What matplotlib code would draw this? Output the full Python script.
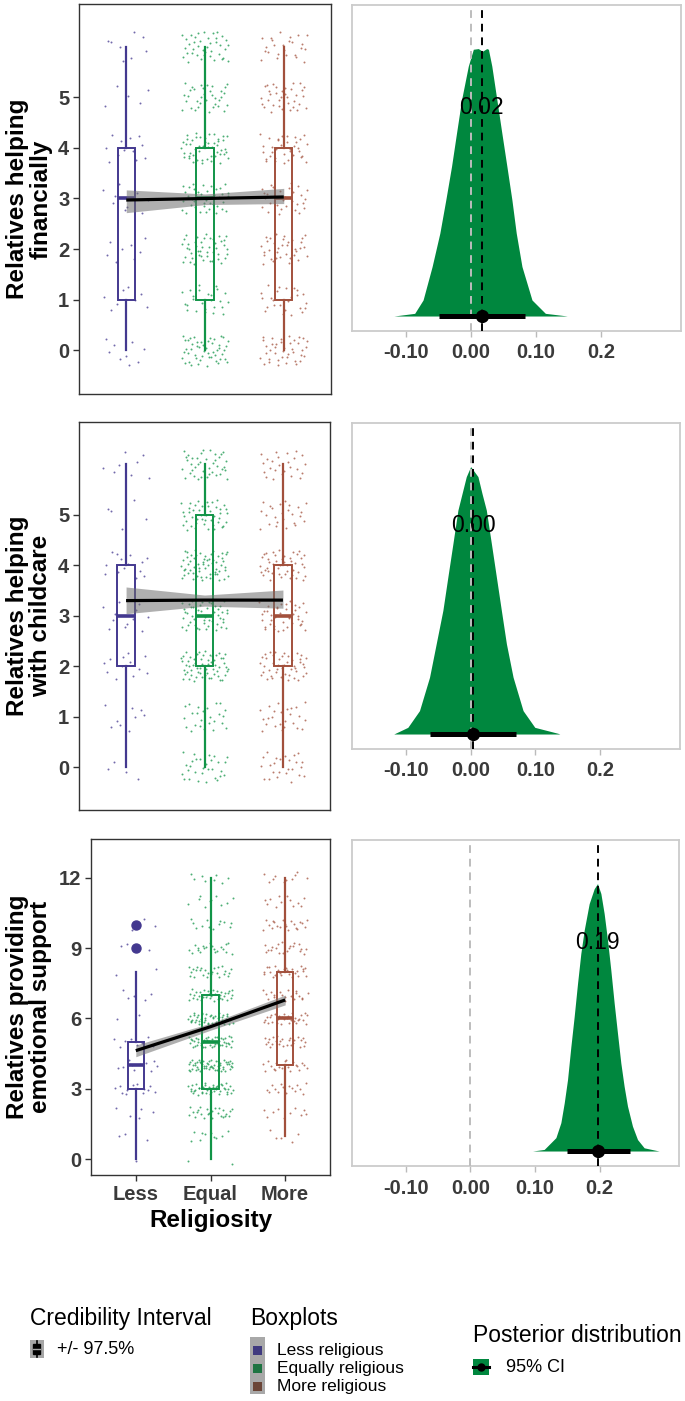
import numpy as np
import matplotlib
matplotlib.use("Agg")
import matplotlib.pyplot as plt
from matplotlib.patches import Rectangle

plt.rcParams['font.family'] = ['Liberation Sans', 'DejaVu Sans']

# ---------------- data ----------------
categories = ['Less', 'Equal', 'More']
group_colors = ['#43388F', '#119447', '#A2503C']

# jittered observations: counts per integer level (levels 0..6)
fin_counts = [[9, 8, 8, 9, 12, 5, 8],
              [50, 25, 45, 40, 50, 35, 40],
              [40, 25, 35, 30, 35, 35, 25]]
child_counts = [[4, 9, 12, 12, 14, 5, 8],
                [30, 25, 60, 50, 60, 45, 40],
                [25, 25, 45, 40, 45, 25, 25]]
# levels 0..12
emo_counts = [[1, 3, 5, 12, 10, 8, 2, 5, 2, 4, 3, 0, 0],
              [2, 10, 25, 40, 55, 45, 45, 35, 25, 20, 12, 10, 8],
              [0, 5, 10, 15, 20, 25, 30, 20, 25, 20, 20, 12, 10]]

# boxplot statistics
fin_q1, fin_med, fin_q3, fin_lo, fin_hi = [1, 1, 1], [3, 3, 3], [4, 4, 4], [0, 0, 0], [6, 6, 6]
child_q1, child_med, child_q3, child_lo, child_hi = [2, 2, 2], [3, 3, 3], [4, 5, 4], [0, 0, 0], [6, 6, 6]
emo_q1, emo_med, emo_q3, emo_lo, emo_hi = [3, 3, 4], [4, 5, 6], [5, 7, 8], [0, 0, 1], [8, 12, 12]
emo_fliers = [[9, 10], [], []]

# regression fit and credibility band
fit_x = [1, 2, 3]
fin_fit, fin_band_lo, fin_band_hi = [2.97, 3.00, 3.03], [2.72, 2.88, 2.90], [3.17, 3.09, 3.20]
child_fit, child_band_lo, child_band_hi = [3.30, 3.31, 3.31], [3.04, 3.19, 3.15], [3.57, 3.41, 3.51]
emo_fit, emo_band_lo, emo_band_hi = [4.63, 5.65, 6.79], [4.37, 5.50, 6.58], [4.87, 5.80, 7.00]

# posterior densities (scaled to max 1)
fin_post_x = [-0.1186, -0.0866, -0.0737, -0.0598, -0.0479, -0.0387, -0.0299, -0.0222, -0.0144,
              -0.0041, 0.0036, 0.0113, 0.0175, 0.0242, 0.0268, 0.032, 0.0397, 0.0474, 0.0552,
              0.0629, 0.0696, 0.0784, 0.0938, 0.1144, 0.1454, 0.148]
fin_post_h = [0.0, 0.01, 0.06, 0.185, 0.31, 0.435, 0.56, 0.685, 0.81,
              0.935, 0.9975, 1.0, 0.99, 1.0, 0.9975, 0.935, 0.81, 0.685, 0.56,
              0.435, 0.31, 0.185, 0.06, 0.01, 0.001, 0.0]
child_post_x = [-0.1186, -0.0969, -0.0789, -0.0634, -0.0531, -0.0428, -0.0351, -0.0273, -0.0196,
                -0.0067, 0.0, 0.0113, 0.0175, 0.0242, 0.032, 0.0397, 0.0474, 0.0552, 0.0655,
                0.0809, 0.099, 0.135, 0.1376]
child_post_h = [0.0, 0.025, 0.0875, 0.2125, 0.3375, 0.4625, 0.5875, 0.7125, 0.8375,
                0.9625, 1.0, 0.9625, 0.9, 0.8375, 0.7125, 0.5875, 0.4625, 0.3375, 0.2125,
                0.0875, 0.025, 0.0025, 0.0]
emo_post_x = [0.0964, 0.1144, 0.1247, 0.1325, 0.1402, 0.1454, 0.1505, 0.1557, 0.1608, 0.166,
              0.1711, 0.1763, 0.184, 0.1918, 0.1969, 0.2021, 0.2072, 0.2124, 0.2175, 0.2227,
              0.2278, 0.233, 0.2381, 0.2433, 0.251, 0.2588, 0.2691, 0.2923]
emo_post_h = [0.0, 0.006, 0.031, 0.05, 0.106, 0.18, 0.267, 0.391, 0.503, 0.627,
              0.739, 0.826, 0.925, 0.981, 1.0, 0.963, 0.888, 0.789, 0.677, 0.553,
              0.441, 0.329, 0.242, 0.168, 0.093, 0.043, 0.012, 0.0]

post_median = [0.0165, 0.0036, 0.197]
post_ci_lo = [-0.049, -0.0634, 0.149]
post_ci_hi = [0.0825, 0.0706, 0.247]
post_labels = ['0.02', '0.00', '0.19']

post_ticks = [-0.10, 0.00, 0.10, 0.2]
post_ticklabels = ['-0.10', '0.00', '0.10', '0.2']

ylabels = ['Relatives helping\nfinancially', 'Relatives helping\nwith childcare',
           'Relatives providing\nemotional support']

# ---------------- figure ----------------
W, H = 685, 1401
fig = plt.figure(figsize=(W / 100, H / 100), dpi=100)


def rect(l, t, r, b):
    return [l / W, 1 - b / H, (r - l) / W, (b - t) / H]


tick_color = '#3a3a3a'
post_green = '#00873E'


def radical_inverse(i, base):
    f, r = 1.0, 0.0
    while i > 0:
        f /= base
        r += f * (i % base)
        i //= base
    return r


def jitter_points(ax, counts, jx=0.3, jy=0.3):
    idx = 0
    for g, cnts in enumerate(counts):
        xs, ys = [], []
        for level, n in enumerate(cnts):
            for k in range(n):
                idx += 1
                u = radical_inverse(idx + 7 * g, 2)
                v = radical_inverse(idx + 7 * g, 3)
                xs.append(g + 1 + (u - 0.5) * 2 * jx)
                ys.append(level + (v - 0.5) * 2 * jy)
        ax.scatter(xs, ys, s=2.0, color=group_colors[g], alpha=0.75, lw=0, zorder=2)


def left_panel(ax, counts, q1, med, q3, lo, hi, fliers, fit, blo, bhi, ylim, yticks, jy, show_x):
    jitter_points(ax, counts, jy=jy)
    stats = []
    for i in range(3):
        stats.append(dict(med=med[i], q1=q1[i], q3=q3[i], whislo=lo[i], whishi=hi[i],
                          fliers=fliers[i], label=categories[i]))
    bp = ax.bxp(stats, positions=[1, 2, 3], widths=0.22, showcaps=False, patch_artist=True,
                manage_ticks=False)
    for i in range(3):
        c = group_colors[i]
        bp['boxes'][i].set(facecolor='none', edgecolor=c, linewidth=1.4, zorder=3)
        bp['medians'][i].set(color=c, linewidth=2.6, zorder=3)
        bp['whiskers'][2 * i].set(color=c, linewidth=1.6, zorder=3)
        bp['whiskers'][2 * i + 1].set(color=c, linewidth=1.6, zorder=3)
        bp['fliers'][i].set(marker='o', markerfacecolor=c, markeredgecolor=c, markersize=6.5, zorder=3)
    ax.fill_between(fit_x, blo, bhi, color='#6e6e6e', alpha=0.55, lw=0, zorder=4)
    ax.plot(fit_x, fit, color='black', lw=2.3, zorder=5, solid_capstyle='butt')
    ax.set_xlim(0.4, 3.6)
    ax.set_ylim(*ylim)
    ax.set_yticks(yticks)
    ax.set_yticklabels([str(t) for t in yticks])
    for s in ax.spines.values():
        s.set_color('#333333')
        s.set_linewidth(1.0)
    ax.tick_params(axis='y', length=4, width=1, color='#333333', pad=3, labelsize=14.5,
                   labelcolor=tick_color)
    for lab in ax.get_yticklabels():
        lab.set_fontweight('bold')
    if show_x:
        ax.set_xticks([1, 2, 3])
        ax.set_xticklabels(categories)
        ax.tick_params(axis='x', length=4, width=1, color='#333333', pad=3, labelsize=14.5,
                       labelcolor=tick_color)
        for lab in ax.get_xticklabels():
            lab.set_fontweight('bold')
    else:
        ax.set_xticks([])


def right_panel(ax, px, ph, i):
    ax.fill_between(px, 0, ph, color=post_green, lw=0, zorder=2)
    ax.axvline(0, color='#BDBDBD', lw=1.4, ls=(0, (4, 3)), zorder=3)
    ax.axvline(post_median[i], color='black', lw=1.4, ls=(0, (4, 3)), zorder=4)
    ax.plot([post_ci_lo[i], post_ci_hi[i]], [0, 0], color='black', lw=3.6,
            solid_capstyle='butt', zorder=5)
    ax.plot([post_median[i]], [0], 'o', color='black', markersize=8.5, zorder=6)
    ax.text(post_median[i], 0.78, post_labels[i], ha='center', va='center', fontsize=16.5,
            color='black', zorder=7)
    ax.set_xlim(-0.183, 0.323)
    ax.set_ylim(-0.056, 1.163)
    ax.set_yticks([])
    ax.set_xticks(post_ticks)
    ax.set_xticklabels(post_ticklabels)
    for s in ax.spines.values():
        s.set_color('#CCCCCC')
        s.set_linewidth(1.3)
    ax.tick_params(axis='x', length=4, width=1, color='#BBBBBB', pad=5, labelsize=14.5,
                   labelcolor=tick_color)
    for lab in ax.get_xticklabels():
        lab.set_fontweight('bold')


# left panels
ax1 = fig.add_axes(rect(79, 4, 331, 394))
left_panel(ax1, fin_counts, fin_q1, fin_med, fin_q3, fin_lo, fin_hi, [[], [], []],
           fin_fit, fin_band_lo, fin_band_hi, (-0.86, 6.84), [0, 1, 2, 3, 4, 5], 0.3, False)
ax2 = fig.add_axes(rect(79, 422, 330, 810))
left_panel(ax2, child_counts, child_q1, child_med, child_q3, child_lo, child_hi, [[], [], []],
           child_fit, child_band_lo, child_band_hi, (-0.85, 6.84), [0, 1, 2, 3, 4, 5], 0.3, False)
ax3 = fig.add_axes(rect(91, 839, 330, 1175))
left_panel(ax3, emo_counts, emo_q1, emo_med, emo_q3, emo_lo, emo_hi, emo_fliers,
           emo_fit, emo_band_lo, emo_band_hi, (-0.67, 13.65), [0, 3, 6, 9, 12], 0.25, True)
ax3.set_xlabel('Religiosity', fontsize=17.5, fontweight='bold', labelpad=4)

# right panels
bx1 = fig.add_axes(rect(352, 5, 681, 331))
right_panel(bx1, fin_post_x, fin_post_h, 0)
bx2 = fig.add_axes(rect(352, 423, 680, 749))
right_panel(bx2, child_post_x, child_post_h, 1)
bx3 = fig.add_axes(rect(352, 840, 679, 1166))
right_panel(bx3, emo_post_x, emo_post_h, 2)

# y labels
for lab, yc in zip(ylabels, [199, 616, 1007]):
    fig.text(29 / W, 1 - yc / H, lab, rotation=90, ha='center', va='center',
             multialignment='center', fontsize=17.5, fontweight='bold', color='black',
             linespacing=1.05)

# ---------------- legends ----------------
lg = fig.add_axes([0, 0, 1, 1], zorder=-1)
lg.set_xlim(0, W)
lg.set_ylim(H, 0)
lg.axis('off')

title_fs = 16.5
item_fs = 12.5

lg.text(30, 1318, 'Credibility Interval', fontsize=title_fs, ha='left', va='center')
lg.add_patch(Rectangle((30, 1340), 14, 18, facecolor='#A6A6A6', edgecolor='none'))
lg.plot([37, 37], [1341, 1357], color='black', lw=1.2)
lg.add_patch(Rectangle((33.5, 1343.5), 7, 10, facecolor='black', edgecolor='black'))
lg.plot([33.5, 40.5], [1348.5, 1348.5], color='#A6A6A6', lw=1.0)
lg.text(57, 1349, '+/- 97.5%', fontsize=13, ha='left', va='center')

lg.text(250, 1318, 'Boxplots', fontsize=title_fs, ha='left', va='center')
lg.add_patch(Rectangle((250, 1337), 15, 57, facecolor='#A8A8A8', edgecolor='none'))
key_cols = ['#3F3A7F', '#1E7442', '#6B4537']
box_labels = ['Less religious', 'Equally religious', 'More religious']
for yc, kc, bl in zip([1350, 1368, 1386], key_cols, box_labels):
    lg.add_patch(Rectangle((253, yc - 4.5), 9, 9, facecolor=kc, edgecolor='none'))
    lg.text(277, yc, bl, fontsize=item_fs, ha='left', va='center')

lg.text(473, 1335, 'Posterior distribution', fontsize=title_fs, ha='left', va='center')
lg.add_patch(Rectangle((473, 1359), 16, 16, facecolor=post_green, edgecolor='none'))
lg.plot([473, 489], [1367, 1367], color='black', lw=2.2)
lg.plot([481], [1367], 'o', color='black', markersize=5)
lg.text(506, 1367, '95% CI', fontsize=13, ha='left', va='center')

fig.savefig('out.png', dpi=100)
